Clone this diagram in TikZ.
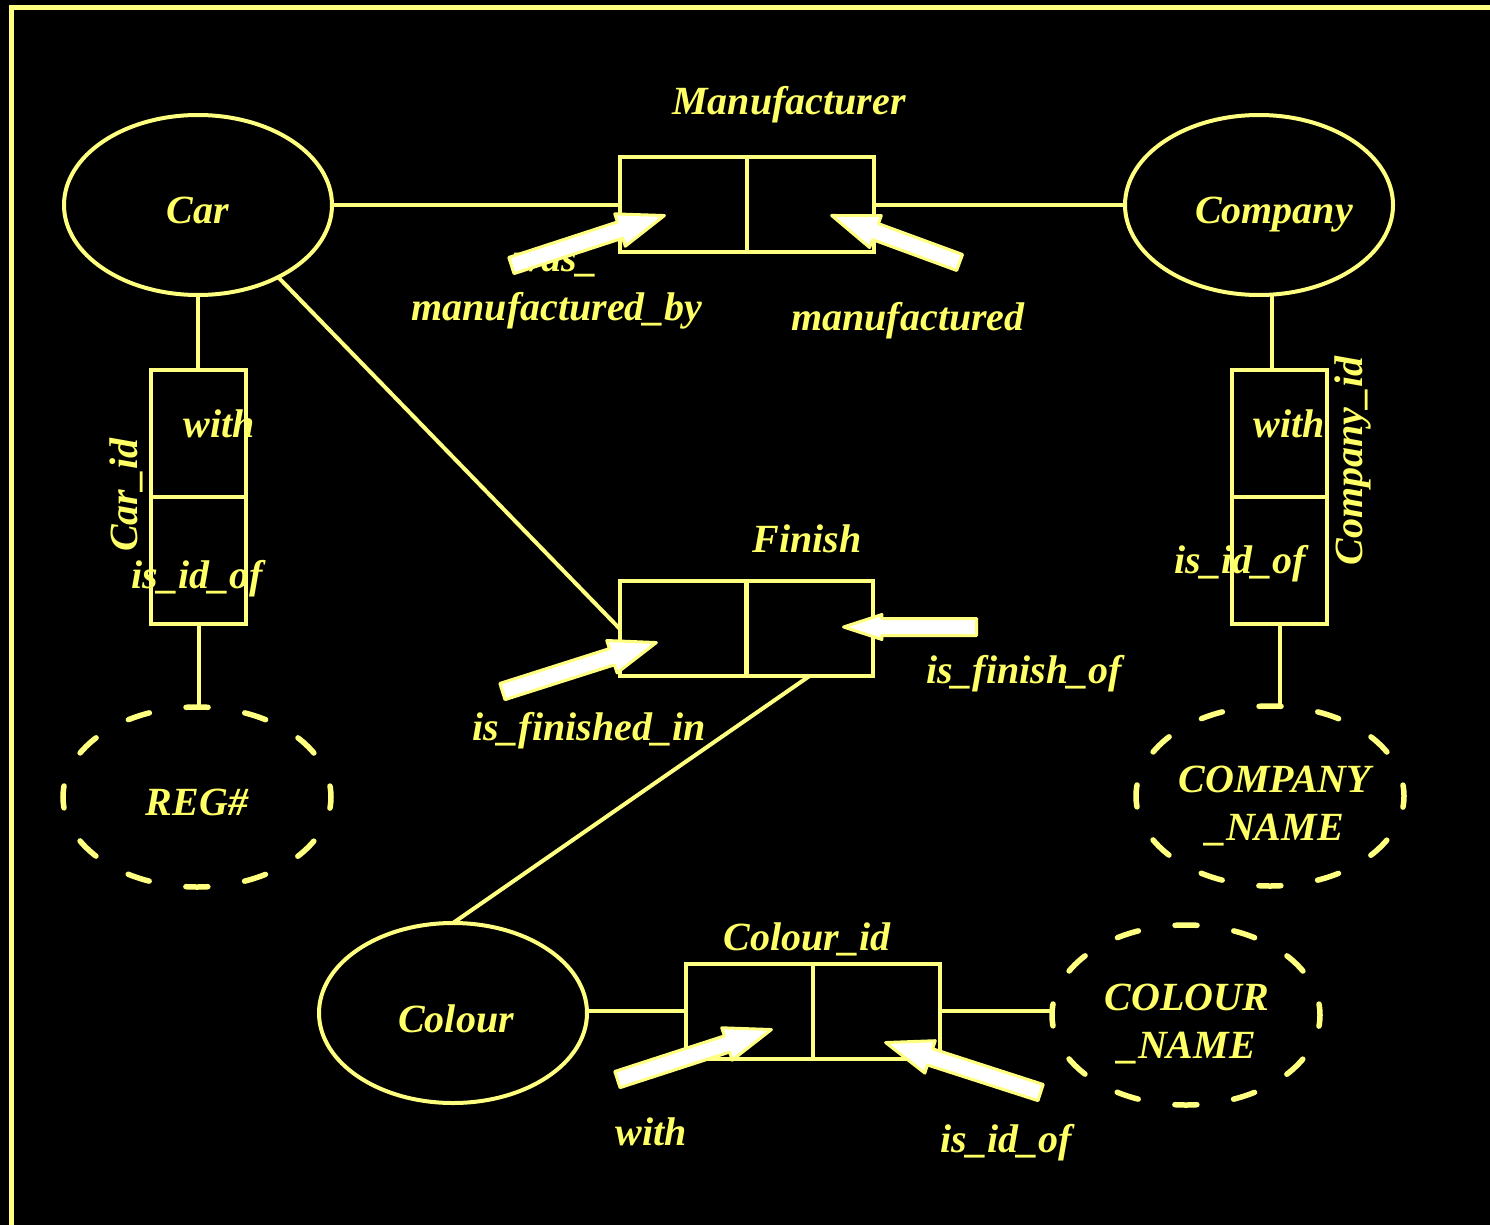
\documentclass[tikz,border=0pt]{standalone}
\usepackage{fontspec}
\setmainfont{Liberation Serif}
\usetikzlibrary{shapes.geometric,shapes.arrows,calc}
\definecolor{lineyel}{RGB}{255,255,128}
\definecolor{textyel}{RGB}{255,255,102}

% white block arrow from a tail coordinate to a tip coordinate
\newcommand\pointerarrow[4][]{%
  \path let \p1=($(#4)-(#3)$), \n1={atan2(\y1,\x1)}, \n2={veclen(\x1,\y1)} in
    node[pointer,#1,anchor=tail,rotate=\n1,minimum height=\n2] (#2) at (#3) {};}

\begin{document}
\begin{tikzpicture}[x=1pt,y=-1pt,
  txt/.style={anchor=base,text=textyel,inner sep=0pt,
    font=\fontsize{40}{48}\selectfont\bfseries\itshape},
  conn/.style={draw=lineyel,line width=4pt},
  cell/.style={draw=lineyel,line width=4pt,inner sep=0pt,outer sep=0pt,
    minimum width=127pt,minimum height=95pt},
  vcell/.style={cell,minimum width=95pt,minimum height=127pt},
  entity/.style={ellipse,draw=lineyel,line width=4pt,inner sep=0pt,outer sep=0pt,
    minimum width=268pt,minimum height=180pt},
  attrib/.style={entity,line width=5.5pt,line cap=round,
    dash pattern=on 22pt off 37.2pt,dash phase=11pt},
  pointer/.style={single arrow,draw=lineyel,fill=white,line width=3pt,
    line join=round,inner sep=0pt,inner ysep=7pt,minimum width=0pt,
    single arrow head extend=8.5pt,single arrow tip angle=40},
  smallhead/.style={single arrow head extend=4pt,single arrow tip angle=36}]

% canvas and frame
\fill[black] (0,0) rectangle (1490,1225);
\useasboundingbox (0,0) rectangle (1490,1225);
\draw[lineyel,line width=4.5pt] (1490,7.5) -- (11.5,7.5) -- (11.5,1225);

% entities
\node[entity] (car) at (198,205) {};
\node[entity] (company) at (1259,205) {};
\node[entity] (colour) at (453,1013) {};

% identifying attributes
\node[attrib] (reg) at (197,797) {};
\node[attrib] (cname) at (1270,796) {};
\node[attrib] (colname) at (1186,1015) {};

% relationship boxes
\node[cell] (manL) at (683.5,204.5) {};
\node[cell] (manR) at (810.5,204.5) {};
\node[cell] (finL) at (683,628.5) {};
\node[cell] (finR) at (809.5,628.5) {};
\node[cell] (cidL) at (749,1011) {};
\node[cell] (cidR) at (876,1011) {};
\node[vcell] (carT) at (198.5,433.5) {};
\node[vcell] (carB) at (198.5,560.5) {};
\node[vcell] (compT) at (1279.5,433.5) {};
\node[vcell] (compB) at (1279.5,560.5) {};

% connectors
\draw[conn] (car.east) -- (car.east -| manL.west);
\draw[conn] (manR.east) -- (manR.east -| company.west);
\draw[conn] (car.south) -- (car.south |- carT.north);
\draw[conn] (carB.south) -- (carB.south |- reg.north);
\draw[conn] (company.-82.4) -- (company.-82.4 |- compT.north);
\draw[conn] (compB.south) -- (compB.south |- cname.north);
\draw[conn] (car.-42) -- (finL.west);
\draw[conn] (finR.south) -- (colour.north);
\draw[conn] (cidL.west -| colour.east) -- (cidL.west);
\draw[conn] (cidR.east) -- (cidR.east -| colname.west);

% texts
\node[txt] (tman) at (789,115) {Manufacturer};
\node[txt] (twas) at (556,271) {was\_};
\node[txt] (tmby) at (557,320) {manufactured\_by};
\node[txt] (tmfd) at (908,330) {manufactured};
\node[txt] (tcar) at (198,223) {Car};
\node[txt] (tcomp) at (1274,223) {Company};
\node[txt] (tcw) at (219,437) {with};
\node[txt,rotate=90] (tcarid) at (137,495) {Car\_id};
\node[txt] (tcid) at (197,588) {is\_id\_of};
\node[txt] (tcpw) at (1289,437) {with};
\node[txt,rotate=90] (tcompid) at (1362,461) {Company\_id};
\node[txt] (tcpid) at (1240,573) {is\_id\_of};
\node[txt] (tfin) at (807,552) {Finish};
\node[txt] (tfof) at (1024,683) {is\_finish\_of};
\node[txt] (tfin2) at (589,740) {is\_finished\_in};
\node[txt] (treg) at (197,815) {REG\#};
\node[txt,align=center] (tcname) at (1275,840) {COMPANY\\\_NAME};
\node[txt] (tcolour) at (456,1032) {Colour};
\node[txt] (tcolid) at (807,950) {Colour\_id};
\node[txt,align=center] (tcolname) at (1187,1058) {COLOUR\\\_NAME};
\node[txt] (tcw2) at (651,1145) {with};
\node[txt] (tcid2) at (1006,1152) {is\_id\_of};

% role pointers
\coordinate (wmbT) at (510,266);  \coordinate (wmbH) at (663,216);
\coordinate (mfdT) at (961,263);  \coordinate (mfdH) at (833,216);
\coordinate (fiT) at (501,692);   \coordinate (fiH) at (655,643);
\coordinate (fofT) at (978,627);  \coordinate (fofH) at (845,627);
\coordinate (cwT) at (616,1080);  \coordinate (cwH) at (770,1030);
\coordinate (ciT) at (1042,1093); \coordinate (ciH) at (887,1043);
\pointerarrow{pwmb}{wmbT}{wmbH}
\pointerarrow{pmfd}{mfdT}{mfdH}
\pointerarrow{pfi}{fiT}{fiH}
\pointerarrow[smallhead]{pfof}{fofT}{fofH}
\pointerarrow{pcw}{cwT}{cwH}
\pointerarrow{pci}{ciT}{ciH}
\end{tikzpicture}
\end{document}
